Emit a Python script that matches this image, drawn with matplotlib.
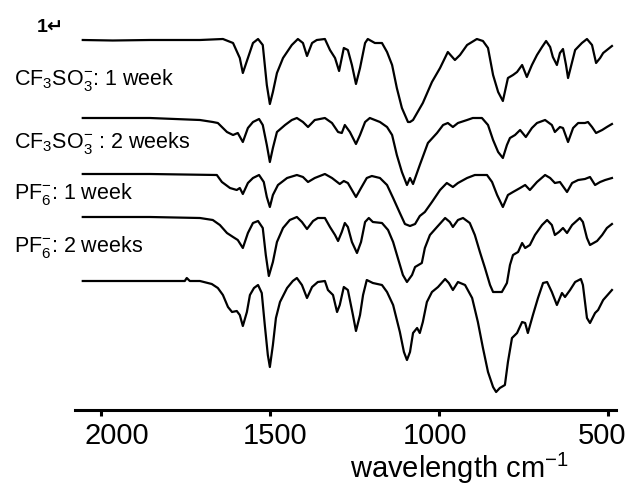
import matplotlib
matplotlib.use("Agg")
import matplotlib.pyplot as plt
from matplotlib.transforms import ScaledTranslation

plt.rcParams['font.family'] = ['Liberation Sans', 'DejaVu Sans']
plt.rcParams['mathtext.fontset'] = 'custom'
plt.rcParams['mathtext.rm'] = 'Liberation Sans'
plt.rcParams['mathtext.it'] = 'Liberation Sans:italic'
plt.rcParams['mathtext.bf'] = 'Liberation Sans:bold'
plt.rcParams['mathtext.default'] = 'regular'

# ---- data: wavenumber (cm-1) and transmittance (a.u., baseline 100) ----
w1 = [2055, 1966, 1856, 1708, 1640, 1610, 1590, 1581, 1566, 1551, 1536, 1522, 1510, 1501, 1492, 1480,
      1462, 1436, 1418, 1403, 1391, 1376, 1362, 1338, 1323, 1308, 1296, 1282, 1270, 1258, 1246, 1234,
      1219, 1211, 1190, 1169, 1154, 1139, 1125, 1110, 1092, 1086, 1077, 1048, 1021, 997, 974, 953, 938,
      917, 888, 870, 855, 840, 825, 811, 796, 781, 769, 754, 740, 725, 710, 695, 683, 671, 663, 651, 642,
      633, 624, 618, 606, 597, 577, 562, 547, 535, 523, 514, 488]
t1 = [100, 99.5, 100, 100, 101, 97, 82, 67, 82, 97, 101, 95, 55, 36, 48, 67,
      82, 95, 101, 97, 84, 97, 100, 101, 90, 82, 69, 92, 90, 75, 56, 72,
      97, 101, 97, 97, 88, 75, 52, 32, 18, 18, 20, 37, 58, 72, 88, 80, 85,
      95, 101, 99, 92, 65, 48, 39, 62, 65, 68, 75, 63, 75, 85, 93, 99, 93, 83, 75, 87,
      91, 75, 62, 78, 90, 97, 101, 95, 77, 82, 87, 94]

w2 = [2055, 1856, 1708, 1670, 1655, 1628, 1610, 1596, 1581, 1566, 1551, 1533, 1522, 1510, 1501, 1492,
      1480, 1456, 1436, 1421, 1403, 1388, 1368, 1338, 1317, 1299, 1288, 1279, 1264, 1246, 1234, 1219,
      1205, 1175, 1154, 1139, 1125, 1110, 1095, 1086, 1077, 1057, 1033, 1006, 988, 974, 959, 944, 917,
      900, 873, 855, 840, 825, 811, 799, 790, 775, 760, 743, 725, 710, 686, 666, 657, 642, 633, 618,
      603, 588, 568, 559, 547, 535, 517, 503, 488]
t2 = [100, 100, 98, 96, 95, 86, 83, 85, 76, 90, 96, 99, 93, 73, 56, 70,
      86, 93, 98, 100, 96, 91, 98, 100, 95, 86, 85, 93, 86, 74, 83, 96,
      100, 96, 91, 83, 63, 46, 33, 40, 34, 53, 75, 85, 93, 95, 91, 95, 98,
      100, 100, 93, 78, 66, 60, 73, 80, 83, 88, 81, 90, 95, 98, 93, 86, 91, 90, 76,
      90, 95, 95, 96, 91, 85, 88, 91, 94]

w3 = [2055, 1856, 1658, 1643, 1619, 1599, 1590, 1581, 1566, 1551, 1533, 1519, 1510, 1501, 1492, 1477,
      1450, 1421, 1403, 1388, 1368, 1338, 1317, 1294, 1282, 1270, 1246, 1231, 1214, 1199, 1175, 1154,
      1136, 1116, 1101, 1086, 1071, 1057, 1042, 1021, 997, 977, 959, 944, 917, 894, 858, 843, 828, 811,
      796, 781, 760, 745, 731, 710, 686, 671, 657, 642, 621, 606, 588, 568, 553, 538, 523, 508, 488]
t3 = [100, 100, 99, 92, 86, 84, 86, 80, 91, 96, 99, 92, 77, 67, 79, 89,
      96, 99, 97, 92, 96, 100, 96, 90, 93, 91, 77, 86, 96, 98, 96, 89,
      76, 61, 50, 48, 50, 58, 62, 72, 84, 91, 87, 91, 96, 99, 99, 92, 79, 67,
      79, 82, 86, 89, 84, 92, 99, 96, 91, 92, 82, 91, 94, 95, 97, 89, 92, 94, 96]

w4 = [2055, 1856, 1708, 1670, 1649, 1628, 1610, 1596, 1581, 1566, 1551, 1536, 1522, 1513, 1504, 1492,
      1480, 1462, 1442, 1421, 1406, 1391, 1373, 1359, 1338, 1323, 1308, 1299, 1288, 1279, 1270, 1258,
      1243, 1231, 1219, 1208, 1196, 1169, 1151, 1136, 1122, 1107, 1095, 1080, 1071, 1051, 1042, 1027,
      1006, 982, 968, 959, 944, 929, 909, 894, 879, 864, 849, 840, 814, 799, 790, 781, 766, 754, 745,
      731, 716, 695, 680, 666, 657, 645, 633, 621, 606, 583, 574, 562, 553, 532, 517, 503, 488]
t4 = [100, 100, 99, 97, 92, 84, 80, 77, 69, 84, 94, 96, 89, 62, 41, 55,
      75, 89, 97, 100, 95, 88, 96, 99, 99, 90, 82, 76, 85, 94, 90, 75,
      64, 75, 95, 99, 95, 94, 87, 75, 59, 42, 35, 42, 50, 54, 69, 82,
      90, 99, 95, 90, 97, 99, 94, 82, 65, 49, 32, 25, 25, 34, 52, 62, 65, 74, 69,
      72, 82, 92, 97, 92, 82, 85, 89, 84, 92, 99, 95, 79, 72, 76, 82, 89, 93]

w5 = [2055, 1856, 1753, 1747, 1738, 1708, 1673, 1655, 1640, 1625, 1613, 1599, 1590, 1581, 1569, 1560,
      1548, 1536, 1525, 1516, 1507, 1501, 1492, 1483, 1471, 1450, 1433, 1421, 1406, 1391, 1376, 1359,
      1338, 1329, 1314, 1302, 1294, 1282, 1270, 1255, 1246, 1234, 1225, 1214, 1196, 1169, 1154, 1136,
      1116, 1104, 1095, 1086, 1077, 1065, 1057, 1048, 1036, 1021, 1003, 982, 971, 959, 944, 923, 902,
      885, 870, 855, 840, 831, 820, 805, 796, 784, 769, 754, 745, 737, 722, 707, 692, 680, 666, 651,
      636, 627, 612, 597, 580, 574, 562, 553, 538, 529, 514, 488]
t5 = [100, 100, 100, 103, 100, 100, 97, 93, 86, 74, 69, 70, 66, 55, 69, 86,
      93, 96, 88, 56, 26, 14, 36, 63, 79, 93, 100, 103, 96, 83, 94, 99,
      100, 91, 86, 69, 76, 94, 91, 66, 50, 66, 86, 101, 98, 96, 89, 76,
      49, 29, 21, 29, 48, 53, 48, 59, 79, 89, 94, 102, 98, 91, 99, 96, 83,
      59, 33, 9, -6, -11, -7, -4, 19, 43, 48, 59, 58, 48, 66, 83, 98, 99, 89, 76,
      88, 84, 91, 99, 102, 96, 63, 58, 68, 71, 81, 91]

series = [(w1, t1), (w2, t2), (w3, t3), (w4, t4), (w5, t5)]
offsets = [-140, -218, -274, -317, -381]   # vertical stacking of the traces

labels = [r"CF$_3$SO$_3^{-}$: 1 week", r"CF$_3$SO$_3^{-}$ : 2 weeks",
          r"PF$_6^{-}$: 1 week", r"PF$_6^{-}$: 2 weeks"]
label_y = [-85, -148, -199, -252]
xticks = [2000, 1500, 1000, 500]
tick_label_shift = [15, 5, -4, -6]   # px, as placed in the original figure

fig = plt.figure(figsize=(6.29, 4.88), dpi=100)
ax = fig.add_axes([75 / 629, 78 / 488, 541 / 629, 390 / 488])

for (w, t), off in zip(series, offsets):
    ax.plot(w, [v + off for v in t], color='black', lw=1.6, solid_joinstyle='round')

ax.set_xlim(2078, 476)
ax.set_ylim(-410, -20)

for s in ['left', 'top', 'right']:
    ax.spines[s].set_visible(False)
ax.spines['bottom'].set_linewidth(2.2)
ax.set_yticks([])
ax.set_xticks(xticks)
ax.set_xticklabels([str(v) for v in xticks])
ax.tick_params(axis='x', direction='out', length=4, width=2.2, pad=5, labelsize=21)
for lab, dx in zip(ax.get_xticklabels(), tick_label_shift):
    lab.set_transform(lab.get_transform() + ScaledTranslation(dx / 100, 0, fig.dpi_scale_trans))

ax.set_xlabel(r"wavelength cm$^{-1}$", fontsize=21)
ax.xaxis.set_label_coords((459 - 75) / 541, -68 / 390)
ax.xaxis.label.set_va('baseline')

for lab, yy in zip(labels, label_y):
    fig.text(14 / 629, (488 + yy) / 488, lab, fontsize=15.5, va='baseline', ha='left')

fig.text(37 / 629, (488 - 32) / 488, "1\u21b5", fontsize=14, fontweight='bold',
         va='baseline', ha='left')

fig.savefig("out.png", dpi=100)
